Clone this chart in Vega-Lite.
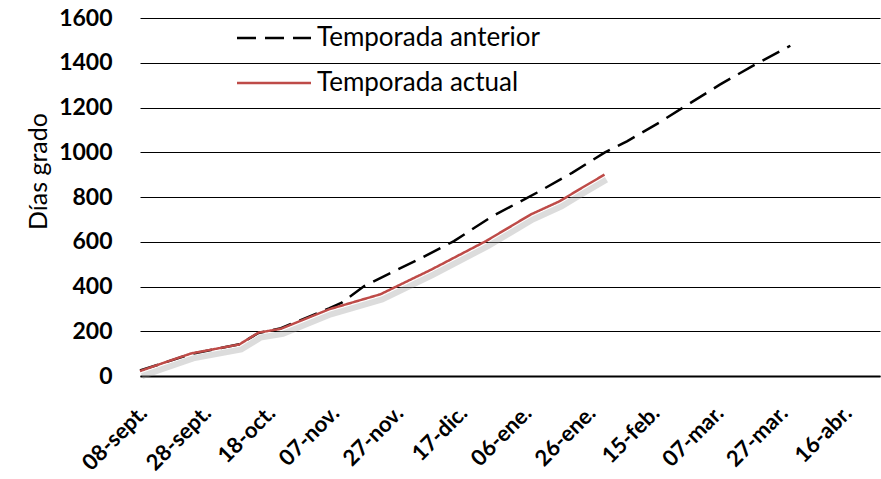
{
  "$schema": "https://vega.github.io/schema/vega-lite/v6.json",
  "width": 740,
  "height": 358,
  "autosize": "none",
  "padding": {"left": 140, "top": 18, "right": 1, "bottom": 103},
  "background": "white",
  "config": {"view": {"stroke": null}, "font": "Lato"},
  "data": {"values": [
    {"serie": "Temporada anterior", "fecha": "2010-09-08", "dg": 25},
    {"serie": "Temporada anterior", "fecha": "2010-09-14", "dg": 52},
    {"serie": "Temporada anterior", "fecha": "2010-09-24", "dg": 99},
    {"serie": "Temporada anterior", "fecha": "2010-10-09", "dg": 142},
    {"serie": "Temporada anterior", "fecha": "2010-10-15", "dg": 192},
    {"serie": "Temporada anterior", "fecha": "2010-10-22", "dg": 214},
    {"serie": "Temporada anterior", "fecha": "2010-11-06", "dg": 302},
    {"serie": "Temporada anterior", "fecha": "2010-11-10", "dg": 328},
    {"serie": "Temporada anterior", "fecha": "2010-11-17", "dg": 402},
    {"serie": "Temporada anterior", "fecha": "2010-11-25", "dg": 459},
    {"serie": "Temporada anterior", "fecha": "2010-12-04", "dg": 521},
    {"serie": "Temporada anterior", "fecha": "2010-12-15", "dg": 603},
    {"serie": "Temporada anterior", "fecha": "2010-12-27", "dg": 714},
    {"serie": "Temporada anterior", "fecha": "2011-01-10", "dg": 820},
    {"serie": "Temporada anterior", "fecha": "2011-01-21", "dg": 909},
    {"serie": "Temporada anterior", "fecha": "2011-01-31", "dg": 998},
    {"serie": "Temporada anterior", "fecha": "2011-02-07", "dg": 1049},
    {"serie": "Temporada anterior", "fecha": "2011-02-17", "dg": 1132},
    {"serie": "Temporada anterior", "fecha": "2011-02-26", "dg": 1213},
    {"serie": "Temporada anterior", "fecha": "2011-03-08", "dg": 1302},
    {"serie": "Temporada anterior", "fecha": "2011-03-18", "dg": 1384},
    {"serie": "Temporada anterior", "fecha": "2011-03-30", "dg": 1476},
    {"serie": "Temporada actual", "fecha": "2010-09-08", "dg": 22},
    {"serie": "Temporada actual", "fecha": "2010-09-14", "dg": 52},
    {"serie": "Temporada actual", "fecha": "2010-09-24", "dg": 101},
    {"serie": "Temporada actual", "fecha": "2010-10-09", "dg": 141},
    {"serie": "Temporada actual", "fecha": "2010-10-15", "dg": 194},
    {"serie": "Temporada actual", "fecha": "2010-10-22", "dg": 211},
    {"serie": "Temporada actual", "fecha": "2010-11-06", "dg": 298},
    {"serie": "Temporada actual", "fecha": "2010-11-22", "dg": 365},
    {"serie": "Temporada actual", "fecha": "2010-12-08", "dg": 476},
    {"serie": "Temporada actual", "fecha": "2010-12-25", "dg": 603},
    {"serie": "Temporada actual", "fecha": "2011-01-08", "dg": 722},
    {"serie": "Temporada actual", "fecha": "2011-01-17", "dg": 781},
    {"serie": "Temporada actual", "fecha": "2011-01-23", "dg": 833},
    {"serie": "Temporada actual", "fecha": "2011-01-31", "dg": 900}
  ]},
  "encoding": {
    "x": {
      "field": "fecha",
      "type": "temporal",
      "scale": {"type": "utc", "domain": [
        {"year": 2010, "month": 9, "date": 8, "utc": true},
        {"year": 2011, "month": 4, "date": 27, "utc": true}
      ]},
      "axis": {
        "title": null,
        "values": [
          {"year": 2010, "month": 9, "date": 8, "utc": true},
          {"year": 2010, "month": 9, "date": 28, "utc": true},
          {"year": 2010, "month": 10, "date": 18, "utc": true},
          {"year": 2010, "month": 11, "date": 7, "utc": true},
          {"year": 2010, "month": 11, "date": 27, "utc": true},
          {"year": 2010, "month": 12, "date": 17, "utc": true},
          {"year": 2011, "month": 1, "date": 6, "utc": true},
          {"year": 2011, "month": 1, "date": 26, "utc": true},
          {"year": 2011, "month": 2, "date": 15, "utc": true},
          {"year": 2011, "month": 3, "date": 7, "utc": true},
          {"year": 2011, "month": 3, "date": 27, "utc": true},
          {"year": 2011, "month": 4, "date": 16, "utc": true}
        ],
        "labelExpr": "utcFormat(datum.value, '%d') + '-' + ['ene.','feb.','mar.','abr.','may.','jun.','jul.','ago.','sept.','oct.','nov.','dic.'][utcmonth(datum.value)]",
        "labelAngle": -45,
        "labelAlign": "right",
        "labelBaseline": "middle",
        "labelPadding": 33,
        "labelOffset": 3,
        "labelFontSize": 22,
        "labelFontWeight": "bold",
        "labelColor": "black",
        "labelOverlap": false,
        "labelBound": false,
        "labelFlush": false,
        "labelLimit": 0,
        "ticks": false,
        "grid": false,
        "domain": true,
        "domainColor": "black",
        "domainWidth": 2
      }
    },
    "y": {
      "field": "dg",
      "type": "quantitative",
      "scale": {"domain": [0, 1600], "nice": false},
      "axis": {
        "values": [0, 200, 400, 600, 800, 1000, 1200, 1400, 1600],
        "format": "d",
        "title": "Días grado",
        "titleFontSize": 25,
        "titleFontWeight": "normal",
        "titleColor": "black",
        "titleX": -94,
        "titleY": 153,
        "titleAngle": -90,
        "titleBaseline": "alphabetic",
        "titleAlign": "center",
        "labelFontSize": 23,
        "labelFontWeight": "bold",
        "labelColor": "black",
        "labelPadding": 28,
        "ticks": false,
        "domain": false,
        "grid": true,
        "gridColor": "black",
        "gridWidth": 1,
        "gridOpacity": 1
      }
    }
  },
  "layer": [
    {
      "transform": [{"filter": "datum.serie === 'Temporada actual'"}],
      "mark": {"type": "line", "stroke": "#9a9a9a", "strokeWidth": 6, "opacity": 0.35, "yOffset": 5, "xOffset": 2}
    },
    {
      "mark": {"type": "line", "strokeWidth": 2.5},
      "encoding": {
        "color": {
          "field": "serie",
          "type": "nominal",
          "scale": {"domain": ["Temporada anterior", "Temporada actual"], "range": ["#000000", "#be4b48"]},
          "legend": {"orient": "none", "legendX": 121, "legendY": 7, "title": null, "symbolType": "M-3.7,0H3.7", "symbolSize": 400, "symbolStrokeWidth": 2.5, "labelFontSize": 26, "labelOffset": 30, "labelLimit": 0, "rowPadding": 19, "labelColor": "black"}
        },
        "strokeDash": {
          "field": "serie",
          "type": "nominal",
          "scale": {"domain": ["Temporada anterior", "Temporada actual"], "range": [[19, 9], [1, 0]]},
          "legend": {"orient": "none", "legendX": 121, "legendY": 7, "title": null, "symbolType": "M-3.7,0H3.7", "symbolSize": 400, "symbolStrokeWidth": 2.5, "labelFontSize": 26, "labelOffset": 30, "labelLimit": 0, "rowPadding": 19, "labelColor": "black"}
        }
      }
    }
  ]
}
